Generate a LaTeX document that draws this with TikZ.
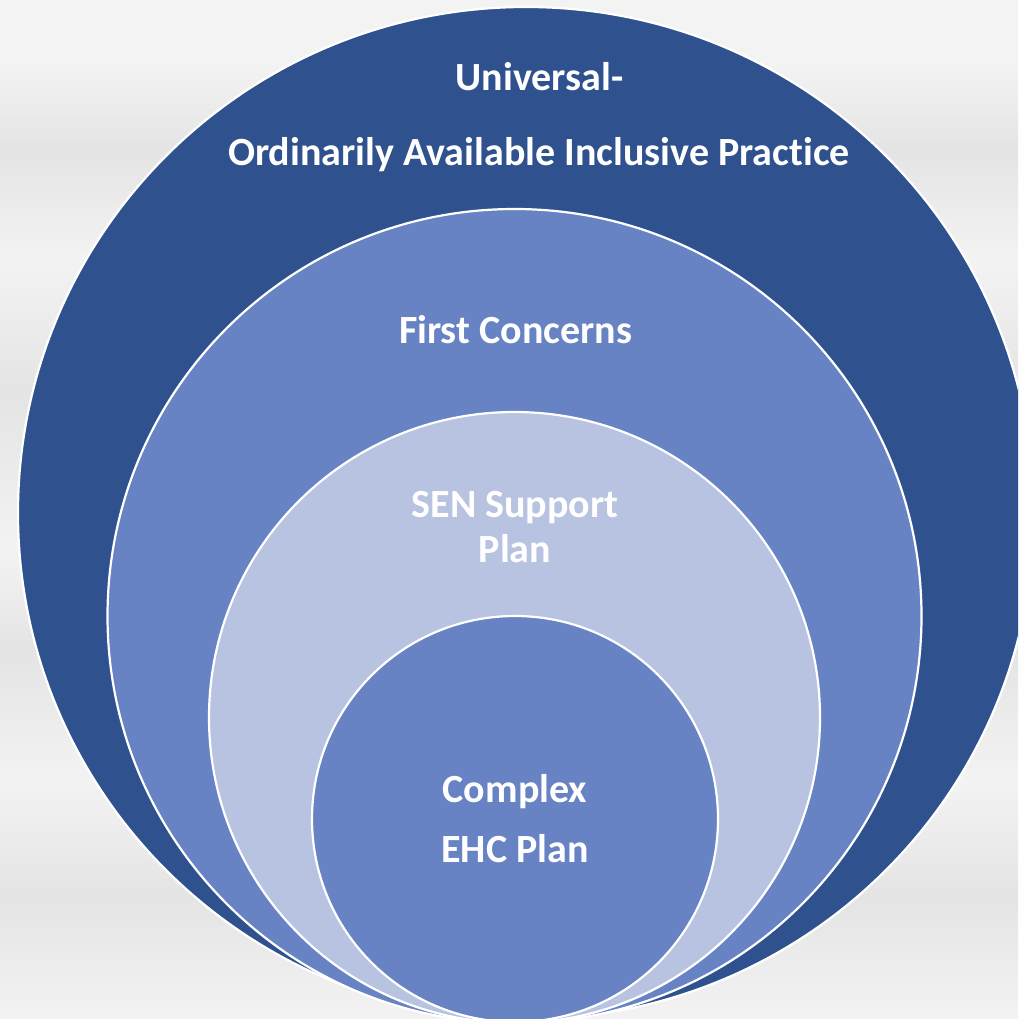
\documentclass[tikz,border=0pt]{standalone}
\usepackage{fontspec}
\setmainfont{Carlito}[Ligatures=NoCommon]
\definecolor{bgL}{HTML}{F3F3F3}
\definecolor{bgD}{HTML}{E4E4E4}
\definecolor{ringA}{HTML}{2F528F}
\definecolor{ringB}{HTML}{6783C4}
\definecolor{ringC}{HTML}{B8C3E1}
\tikzset{
  ring/.style={draw=white, line width=2.2pt},
  lbl/.style={text=white, font=\fontsize{40}{48}\selectfont\bfseries, anchor=base, inner sep=0pt}
}
\begin{document}
\begin{tikzpicture}[x=1pt,y=-1pt]
\useasboundingbox (0,0) rectangle (1018,1019);
\clip (0,0) rectangle (1018,1019);
% background bands
\foreach \ya/\yb/\ca/\cb in {0/65/bgL/bgL, 65/150/bgL/bgD, 150/260/bgD/bgL, 260/390/bgL/bgD, 390/552/bgD/bgL, 552/650/bgL/bgD, 650/780/bgD/bgL, 780/897/bgL/bgD, 897/1019/bgD/bgL}
  \shade[top color=\ca, bottom color=\cb] (-1,\ya-0.6) rectangle (1019,\yb+0.6);
% rings
\filldraw[ring, fill=ringA] (526,513) ellipse [x radius=508, y radius=506];
\filldraw[ring, fill=ringB] (514.5,616) circle [radius=407];
\filldraw[ring, fill=ringC] (514.5,717.5) circle [radius=305.5];
\filldraw[ring, fill=ringB] (515,819) circle [radius=203];
% labels
\node[lbl] (u1) at (539.5,91) {Universal-};
\node[lbl] (u2) at (539,166) {Ordinarily Available Inclusive Practice};
\node[lbl] (f1) at (515.5,343) {First Concerns};
\node[lbl] (s1) at (515,517) {SEN Support};
\node[lbl] (s2) at (515,562) {Plan};
\node[lbl] (e1) at (515,802) {Complex};
\node[lbl] (e2) at (515,862) {EHC Plan};
\end{tikzpicture}
\end{document}
